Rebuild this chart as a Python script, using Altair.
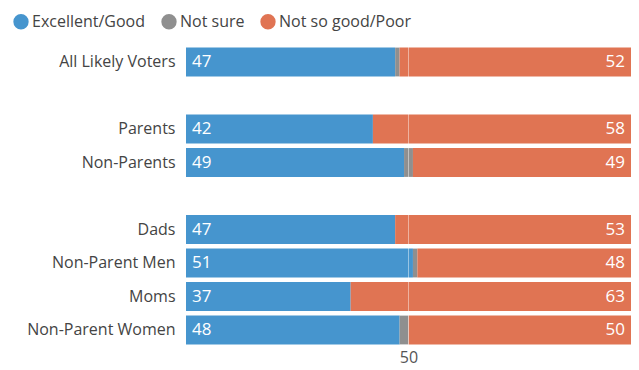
import altair as alt
import pandas as pd

groups = ["All Likely Voters", "Parents", "Non-Parents", "Dads", "Non-Parent Men", "Moms", "Non-Parent Women"]
row_order = ["All Likely Voters", " ", "Parents", "Non-Parents", "  ", "Dads", "Non-Parent Men", "Moms", "Non-Parent Women"]
good = [47, 42, 49, 47, 51, 37, 48]
not_sure = [1, 0, 2, 0, 1, 0, 2]
poor = [52, 58, 49, 53, 48, 63, 50]

series = ["Excellent/Good", "Not sure", "Not so good/Poor"]
colors = ["#4695ce", "#8f8f8f", "#e07453"]

rows = []
for g, a, b, c in zip(groups, good, not_sure, poor):
    for i, (s, v) in enumerate(zip(series, [a, b, c])):
        rows.append({"group": g, "series": s, "value": v, "order": i})
df = pd.DataFrame(rows)

FONT = "Open Sans"
yenc = alt.Y("group:N", scale=alt.Scale(domain=row_order, paddingInner=0.14, paddingOuter=0.07),
             axis=alt.Axis(title=None, ticks=False, domain=False, labelFontSize=16,
                           labelColor="#444444", labelPadding=11, labelFont=FONT))

bars = alt.Chart(df).mark_bar().encode(
    x=alt.X("value:Q", stack="zero", scale=alt.Scale(domain=[0, 100], nice=False),
            axis=alt.Axis(values=[50], title=None, grid=False, domain=False, ticks=False,
                          labelFontSize=16, labelColor="#555555", labelPadding=3, labelFont=FONT)),
    y=yenc,
    color=alt.Color("series:N", scale=alt.Scale(domain=series, range=colors),
                    legend=alt.Legend(title=None, orient="none", legendX=-173, legendY=-31.5,
                                      direction="horizontal", symbolType="circle", symbolSize=235,
                                      symbolStrokeWidth=0, labelFontSize=16, labelColor="#444444",
                                      labelFont=FONT, columnPadding=15, labelOffset=3)),
    order=alt.Order("order:Q"),
)

rule = alt.Chart(pd.DataFrame({"x": [50]})).mark_rule(color="white", opacity=0.45, strokeWidth=1).encode(
    x="x:Q"
)

left_df = df[df["series"] == "Excellent/Good"].copy()
left_df["pos"] = 0
right_df = df[df["series"] == "Not so good/Poor"].copy()
right_df["pos"] = 100

left_text = alt.Chart(left_df).mark_text(align="left", dx=6, color="white", fontSize=17, font=FONT).encode(
    x="pos:Q", y=alt.Y("group:N", scale=alt.Scale(domain=row_order)), text="value:Q"
)
right_text = alt.Chart(right_df).mark_text(align="right", dx=-6, color="white", fontSize=17, font=FONT).encode(
    x="pos:Q", y=alt.Y("group:N", scale=alt.Scale(domain=row_order)), text="value:Q"
)

chart = alt.layer(bars, rule, left_text, right_text).properties(
    width=445, height=301.5,
    autosize=alt.AutoSizeParams(type="none"),
    padding={"left": 178, "top": 37.25, "right": 0, "bottom": 30},
).configure_view(stroke=None)

chart.save("out.html", embed_options={"renderer": "svg", "actions": False})
